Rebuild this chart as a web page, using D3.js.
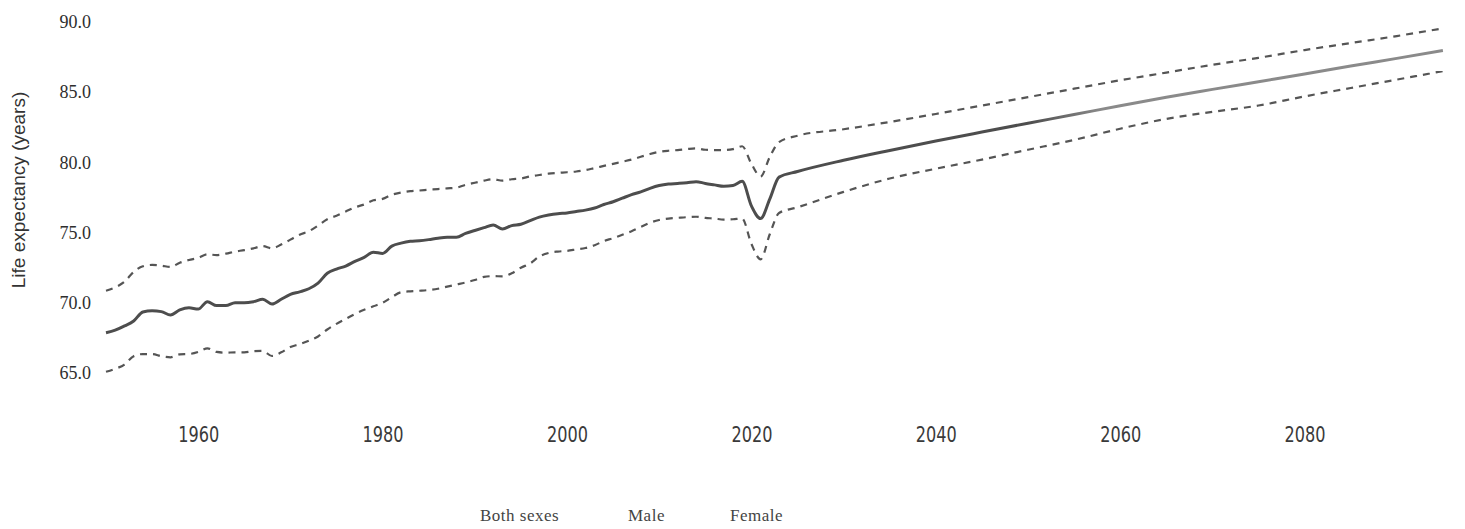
<!DOCTYPE html>
<html>
<head>
<meta charset="utf-8">
<script src="https://cdn.jsdelivr.net/npm/d3@7"></script>
<style>
  body { margin: 0; background: #fff; }
  #chart { width: 1465px; height: 529px; }
</style>
</head>
<body>
<div id="chart"></div>
<script>
// historical annual values 1950-2023
const histYears = d3.range(1950, 2024);
const histMid = [
  67.87, 68.05, 68.35, 68.7, 69.35, 69.43, 69.37, 69.13, 69.49, 69.65,
  69.55, 70.08, 69.8, 69.8, 70.0, 70.0, 70.08, 70.25, 69.91, 70.25,
  70.6, 70.78, 71.0, 71.4, 72.1, 72.4, 72.62, 72.95, 73.24, 73.6,
  73.52, 74.04, 74.25, 74.38, 74.42, 74.5, 74.6, 74.66, 74.66, 74.94,
  75.15, 75.35, 75.54, 75.26, 75.5, 75.6, 75.85, 76.1, 76.25, 76.35,
  76.4, 76.5, 76.6, 76.75, 77.0, 77.2, 77.45, 77.7, 77.9, 78.15,
  78.35, 78.46, 78.5, 78.55, 78.63, 78.5, 78.4, 78.3, 78.35, 78.65,
  76.9, 76.0, 77.4, 78.95
];
const histUpper = [
  70.86, 71.1, 71.5, 72.2, 72.6, 72.7, 72.65, 72.55, 72.85, 73.05,
  73.2, 73.45, 73.4, 73.5, 73.65, 73.75, 73.88, 74.04, 73.88, 74.15,
  74.5, 74.85, 75.1, 75.5, 75.95, 76.2, 76.5, 76.8, 77.0, 77.3,
  77.4, 77.7, 77.85, 77.95, 78.0, 78.05, 78.1, 78.15, 78.2, 78.4,
  78.55, 78.7, 78.8, 78.7, 78.8, 78.85, 79.0, 79.1, 79.2, 79.25,
  79.3, 79.35, 79.45, 79.6, 79.75, 79.9, 80.05, 80.2, 80.4, 80.6,
  80.75, 80.83, 80.88, 80.95, 81.0, 80.9, 80.88, 80.88, 80.95, 81.15,
  79.9, 79.0, 80.4, 81.45
];
const histLower = [
  65.09, 65.3, 65.6, 66.2, 66.35, 66.35, 66.2, 66.12, 66.33, 66.35,
  66.5, 66.76, 66.5, 66.45, 66.47, 66.47, 66.55, 66.57, 66.21, 66.47,
  66.85, 67.05, 67.3, 67.6, 68.1, 68.5, 68.85, 69.2, 69.5, 69.75,
  70.0, 70.4, 70.75, 70.82, 70.86, 70.91, 71.0, 71.15, 71.3, 71.45,
  71.62, 71.85, 71.9, 71.88, 72.1, 72.5, 72.8, 73.3, 73.55, 73.65,
  73.7, 73.8, 73.9, 74.1, 74.4, 74.6, 74.85, 75.1, 75.4, 75.7,
  75.9, 76.0, 76.05, 76.1, 76.13, 76.05, 76.0, 75.93, 75.95, 76.0,
  74.2, 73.1, 74.9, 76.4
];

// projections
const projYears = [2025, 2030, 2035, 2040, 2045, 2050, 2055, 2060, 2065, 2070, 2075, 2080, 2085, 2090, 2095];
const projMid   = [79.35, 80.15, 80.85, 81.52, 82.16, 82.79, 83.41, 84.04, 84.64, 85.2, 85.75, 86.3, 86.86, 87.41, 87.97];
const projUpper = [81.9, 82.36, 82.88, 83.45, 84.05, 84.65, 85.25, 85.85, 86.4, 86.95, 87.45, 88.0, 88.5, 89.0, 89.55];
const projLower = [76.8, 77.9, 78.85, 79.55, 80.2, 80.9, 81.6, 82.4, 83.1, 83.6, 84.05, 84.7, 85.3, 85.9, 86.5];

const xTicks = [1960, 1980, 2000, 2020, 2040, 2060, 2080];
const yTicks = [65, 70, 75, 80, 85, 90];
const legendLabels = ['Both sexes', 'Male', 'Female'];

const width = 1465, height = 529;

const svg = d3.select('#chart').append('svg')
  .attr('width', width)
  .attr('height', height);

const x = d3.scaleLinear().domain([1950, 2100]).range([106, 1489]);
const y = d3.scaleLinear().domain([65, 90]).range([373, 22]);

const join = (hy, hv, py, pv) =>
  hy.map((yr, i) => ({ year: yr, v: hv[i] })).concat(py.map((yr, i) => ({ year: yr, v: pv[i] })));

const mid = join(histYears, histMid, projYears, projMid);
const upper = join(histYears, histUpper, projYears, projUpper);
const lower = join(histYears, histLower, projYears, projLower);

const line = d3.line()
  .x(d => x(d.year))
  .y(d => y(d.v))
  .curve(d3.curveMonotoneX);

// gradient: the projected line fades to a lighter grey
const grad = svg.append('defs').append('linearGradient')
  .attr('id', 'midGrad')
  .attr('gradientUnits', 'userSpaceOnUse')
  .attr('x1', x(2050)).attr('x2', x(2058))
  .attr('y1', 0).attr('y2', 0);
grad.append('stop').attr('offset', '0%').attr('stop-color', '#4d4d4d');
grad.append('stop').attr('offset', '100%').attr('stop-color', '#8a8a8a');

// dashed uncertainty bounds
[upper, lower].forEach(band => {
  svg.append('path')
    .datum(band)
    .attr('fill', 'none')
    .attr('stroke', '#555')
    .attr('stroke-width', 2.2)
    .attr('stroke-dasharray', '7,6')
    .attr('d', line);
});

svg.append('path')
  .datum(mid)
  .attr('fill', 'none')
  .attr('stroke', 'url(#midGrad)')
  .attr('stroke-width', 3)
  .attr('d', line);

// y axis
const yAxis = svg.append('g')
  .attr('transform', 'translate(91,0)')
  .call(d3.axisLeft(y).tickValues(yTicks).tickFormat(d3.format('.1f')).tickSize(0).tickPadding(0));
yAxis.select('.domain').remove();
yAxis.selectAll('text')
  .attr('font-family', '"Liberation Serif", "Times New Roman", serif')
  .attr('font-size', '18px')
  .attr('fill', '#2e2e2e');

// x axis (narrow, tall digits)
const xAxis = svg.append('g')
  .attr('transform', 'translate(0,427)')
  .call(d3.axisBottom(x).tickValues(xTicks).tickFormat(d3.format('d')).tickSize(0).tickPadding(0));
xAxis.select('.domain').remove();
xAxis.selectAll('text')
  .attr('font-family', '"DejaVu Sans Condensed", "Liberation Sans", sans-serif')
  .attr('font-size', '21px')
  .attr('textLength', 41)
  .attr('lengthAdjust', 'spacingAndGlyphs')
  .attr('fill', '#3a3a3a');

// y title
svg.append('text')
  .attr('transform', 'translate(25,190) rotate(-90)')
  .attr('text-anchor', 'middle')
  .attr('font-family', '"Liberation Sans", Arial, sans-serif')
  .attr('font-size', '19px')
  .attr('fill', '#333')
  .text('Life expectancy (years)');

// legend (labels only)
const legendX = [480, 628, 730];
svg.append('g').selectAll('text')
  .data(legendLabels)
  .enter().append('text')
  .attr('x', (d, i) => legendX[i])
  .attr('y', 521)
  .attr('font-family', '"Liberation Serif", "Times New Roman", serif')
  .attr('font-size', '17px')
  .attr('letter-spacing', '0.5px')
  .attr('fill', '#444')
  .text(d => d);
</script>
</body>
</html>
